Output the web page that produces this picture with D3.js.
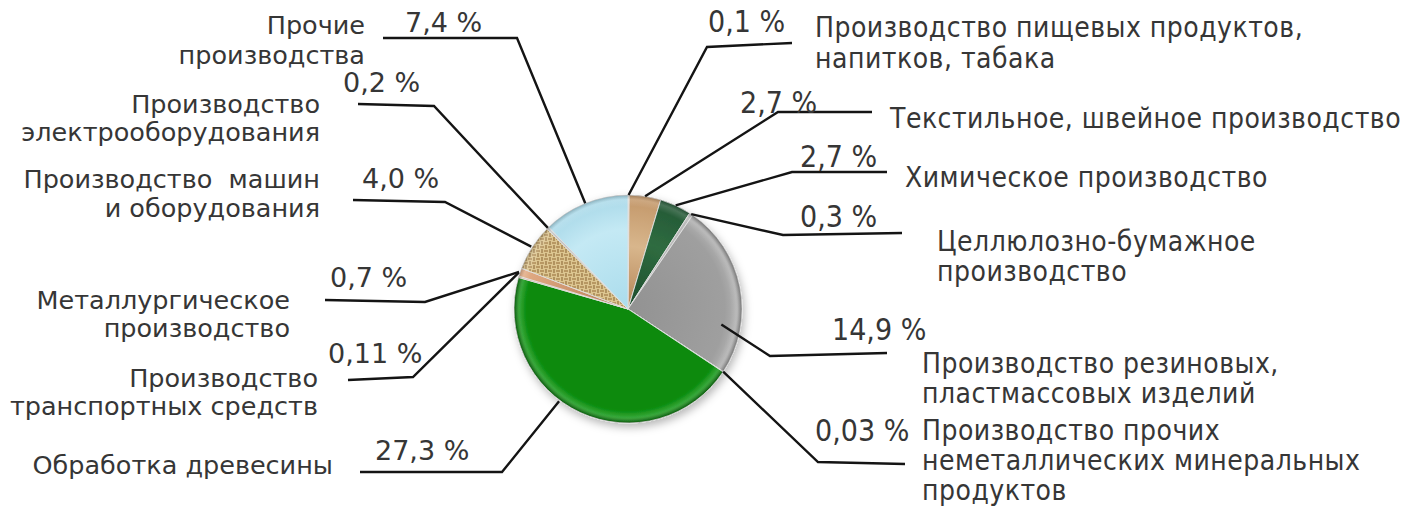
<!DOCTYPE html>
<html>
<head>
<meta charset="utf-8">
<script src="https://cdn.jsdelivr.net/npm/d3@7/dist/d3.min.js"></script>
<style>
  body { margin: 0; background: #fff; }
  text { fill: #363636; white-space: pre; }
</style>
</head>
<body>
<svg id="chart" width="1421" height="507"></svg>
<script>
// categories, clockwise from 12 o'clock
const names = [
  ["Производство пищевых продуктов,", "напитков, табака"],
  ["Текстильное, швейное производство"],
  ["Химическое производство"],
  ["Целлюлозно-бумажное", "производство"],
  ["Производство резиновых,", "пластмассовых изделий"],
  ["Производство прочих", "неметаллических минеральных", "продуктов"],
  ["Обработка древесины"],
  ["Производство", "транспортных средств"],
  ["Металлургическое", "производство"],
  ["Производство  машин", "и оборудования"],
  ["Производство", "электрооборудования"],
  ["Прочие", "производства"]
];
const shares = [0.1, 2.7, 2.7, 0.3, 14.9, 0.03, 27.3, 0.11, 0.7, 4.0, 0.2, 7.4];
const shareText = ["0,1 %", "2,7 %", "2,7 %", "0,3 %", "14,9 %", "0,03 %",
                   "27,3 %", "0,11 %", "0,7 %", "4,0 %", "0,2 %", "7,4 %"];

const colors = ["#e2c9a4", "url(#tan)", "url(#marble)", "#b9b9b9", "url(#grey)", "#a8a8a8",
                "url(#green)", "#c98f68", "url(#copper)", "url(#burlap)", "#c4c4c4", "url(#ice)"];

// label placement: side, anchor shift on the pie (deg), anchor radius factor,
// leader elbow and end, percent text pos, name text x and baselines
const layout = [
  { side: "r", shift: 0,  rf: 1,    elbow: [707, 47],  end: [792, 43],  pct: [708, 32],  nx: 815, ny: [37, 68] },
  { side: "r", shift: 0,  rf: 1,    elbow: [778, 112], end: [872, 112], pct: [740, 113], nx: 890, ny: [128] },
  { side: "r", shift: 0,  rf: 1,    elbow: [792, 172], end: [887, 172], pct: [800, 167], nx: 905, ny: [187] },
  { side: "r", shift: 0,  rf: 1,    elbow: [783, 235], end: [902, 233], pct: [800, 227], nx: 937, ny: [251, 281] },
  { side: "r", shift: 20.5, rf: 0.83, elbow: [770, 356], end: [887, 353], pct: [832, 340], nx: 922, ny: [373, 403] },
  { side: "r", shift: 0,  rf: 1,    elbow: [818, 462], end: [905, 464], pct: [815, 441], nx: 922, ny: [440, 470, 500] },
  { side: "l", shift: 12, rf: 1.01, elbow: [502, 472], end: [360, 472], pct: [375, 460], nx: 333, ny: [474] },
  { side: "l", shift: 2,  rf: 1.01, elbow: [413, 377], end: [348, 380], pct: [328, 363], nx: 318, ny: [387, 415] },
  { side: "l", shift: 0,  rf: 1.01, elbow: [425, 302], end: [325, 300], pct: [330, 287], nx: 290, ny: [309, 337] },
  { side: "l", shift: 0,  rf: 1.01, elbow: [445, 202], end: [353, 200], pct: [362, 188], nx: 320, ny: [188, 217] },
  { side: "l", shift: 0,  rf: 1,    elbow: [434, 106], end: [358, 104], pct: [343, 92],  nx: 320, ny: [113, 141] },
  { side: "l", shift: 0,  rf: 1,    elbow: [517, 38],  end: [383, 38],  pct: [405, 32],  nx: 365, ny: [34, 64] }
];

const cx = 628, cy = 309, radius = 114;
const svg = d3.select("#chart");
const defs = svg.append("defs");

// gradients live in the pie group's coordinates (centre at 0,0)
function radial(id, stops) {
  const gr = defs.append("radialGradient").attr("id", id)
    .attr("gradientUnits", "userSpaceOnUse")
    .attr("cx", 0).attr("cy", 0).attr("r", radius);
  stops.forEach(s => gr.append("stop").attr("offset", s[0]).attr("stop-color", s[1]));
}
radial("green", [[0, "#0b8a0f"], [0.88, "#0a8a0e"], [0.95, "#1a9a1c"], [1, "#0b6c0c"]]);
radial("grey", [[0, "#929292"], [0.85, "#9f9f9f"], [0.95, "#b0b0b0"], [1, "#8e8e8e"]]);
radial("ice", [[0, "#aadcec"], [0.7, "#c4e9f4"], [1, "#a8d8e8"]]);
radial("tan", [[0, "#b48456"], [0.55, "#d8b68c"], [1, "#c29668"]]);
radial("marble", [[0, "#1d4b2c"], [0.6, "#2f6c40"], [1, "#245836"]]);
radial("copper", [[0, "#b57a55"], [1, "#e3ad86"]]);

// woven texture for the machinery slice
const bp = defs.append("pattern").attr("id", "burlap")
  .attr("patternUnits", "userSpaceOnUse").attr("width", 8).attr("height", 8);
bp.append("rect").attr("width", 8).attr("height", 8).attr("fill", "#dcc590");
bp.append("path").attr("d", "M0,2H4M4,6H8").attr("stroke", "#ad8a55").attr("stroke-width", 1.5);
bp.append("path").attr("d", "M2,4V8M6,0V4").attr("stroke", "#94713f").attr("stroke-width", 1.2);

const shadow = defs.append("filter").attr("id", "shadow")
  .attr("x", "-20%").attr("y", "-20%").attr("width", "140%").attr("height", "140%");
shadow.append("feDropShadow").attr("dx", 2).attr("dy", 4).attr("stdDeviation", 4)
  .attr("flood-color", "#000").attr("flood-opacity", 0.28);

const shade = defs.append("radialGradient").attr("id", "shade")
  .attr("gradientUnits", "userSpaceOnUse").attr("cx", 0).attr("cy", 0).attr("r", radius);
[[0, "rgba(255,255,255,0)"], [0.9, "rgba(255,255,255,0)"], [0.96, "rgba(255,255,255,0.15)"],
 [1, "rgba(0,0,0,0.2)"]].forEach(s => shade.append("stop").attr("offset", s[0]).attr("stop-color", s[1]));

const pie = d3.pie().sort(null).value(d => d);
const arcs = pie(shares);
const arc = d3.arc().innerRadius(0).outerRadius(radius);

const pieG = svg.append("g").attr("transform", `translate(${cx},${cy})`);
const slices = pieG.append("g").attr("filter", "url(#shadow)");
slices.selectAll("path.slice")
  .data(arcs)
  .enter()
  .append("path")
  .attr("class", "slice")
  .attr("d", arc)
  .attr("fill", (d, i) => colors[i])
  .attr("stroke", "rgba(225,225,225,0.9)")
  .attr("stroke-width", 1);

pieG.append("circle").attr("r", radius).attr("fill", "url(#shade)");

// leader lines
const leaders = svg.append("g");
arcs.forEach((d, i) => {
  const L = layout[i];
  const mid = (d.startAngle + d.endAngle) / 2 + L.shift * Math.PI / 180;
  const r = radius * L.rf;
  const p = d3.arc().innerRadius(r).outerRadius(r).centroid({ startAngle: mid, endAngle: mid });
  const pts = [[p[0] + cx, p[1] + cy], L.elbow, L.end];
  leaders.append("path")
    .attr("d", d3.line()(pts))
    .attr("fill", "none")
    .attr("stroke", "#141414")
    .attr("stroke-width", 2.4);
});

// texts
const labels = svg.append("g");
names.forEach((rows, i) => {
  const L = layout[i];
  const right = L.side === "r";
  const font = right ? "'DejaVu Sans Condensed', 'DejaVu Sans', sans-serif" : "'DejaVu Sans', Verdana, sans-serif";
  labels.append("text")
    .attr("x", L.pct[0]).attr("y", L.pct[1])
    .style("font-family", font)
    .style("font-size", right ? "30px" : "27px")
    .text(shareText[i]);
  rows.forEach((t, k) => {
    labels.append("text")
      .attr("x", L.nx).attr("y", L.ny[k])
      .attr("text-anchor", right ? "start" : "end")
      .style("font-family", font)
      .style("font-size", right ? "28px" : "25.5px")
      .style("letter-spacing", right ? "0.5px" : null)
      .text(t);
  });
});
</script>
</body>
</html>
